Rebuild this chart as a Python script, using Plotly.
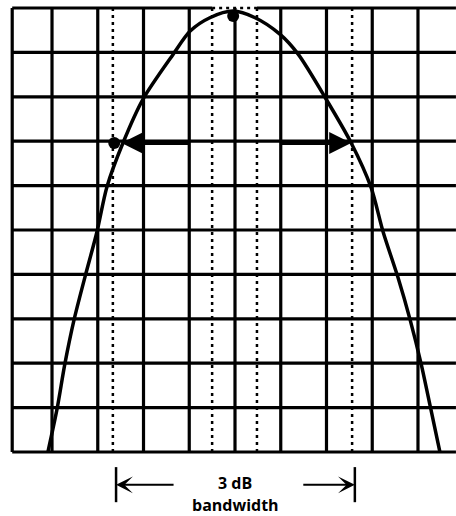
import plotly.graph_objects as go

# Grid geometry in screen divisions
x_lines = [1, 2, 3, 4, 5, 6, 7, 8, 9]
y_lines = [0, 1, 2, 3, 4, 5, 6, 7, 8, 9, 10]
x_left_edge = 0.13
x_right_edge = 9.83
x_dotted = [2.33, 4.50, 5.48, 7.56]

# Filter response trace (x: horizontal divisions, y: vertical divisions)
curve_x = [0.91, 1.11, 1.28, 1.48, 1.72, 1.98, 2.20, 2.55, 2.99, 3.65, 4.02, 4.45, 4.96,
           5.44, 5.98, 6.38, 6.99, 7.54, 7.97, 8.24, 8.56, 8.83, 9.07, 9.28, 9.48]
curve_y = [0.0, 0.97, 1.98, 2.97, 3.94, 4.95, 5.97, 6.96, 7.95, 8.96, 9.48, 9.78, 9.93,
           9.78, 9.41, 8.96, 7.95, 6.96, 5.97, 4.95, 3.94, 2.97, 1.98, 0.97, 0.0]

# Marked points: peak and lower -3 dB point
peak = (4.96, 9.82)
half_power_left = (2.36, 6.96)
# -3 dB arrows (tail -> head)
arrow_left = ((4.02, 6.96), (2.52, 6.96))
arrow_right = ((5.98, 6.96), (7.54, 6.96))

# Bandwidth bracket below the screen
bw_left, bw_right = 2.40, 7.62
bw_bar_y = (-0.34, -1.13)
bw_arrow_y = -0.74
bw_tail_left, bw_tail_right = 3.69, 6.46
label_top = "3 dB"
label_bottom = "bandwidth"

fig = go.Figure()

# solid grid lines
gx, gy = [], []
for x in x_lines:
    gx += [x, x, None]
    gy += [y_lines[0], y_lines[-1], None]
# left border
gx += [x_left_edge, x_left_edge, None]
gy += [y_lines[0], y_lines[-1], None]
for y in y_lines[:-1]:
    gx += [x_left_edge, x_right_edge, None]
    gy += [y, y, None]
# top border, broken around the peak
gx += [x_left_edge, x_dotted[1], None, x_dotted[2], x_right_edge, None]
gy += [y_lines[-1], y_lines[-1], None, y_lines[-1], y_lines[-1], None]
fig.add_trace(go.Scatter(x=gx, y=gy, mode="lines",
                         line=dict(color="black", width=3.2), hoverinfo="skip"))

# dotted verticals
dx, dy = [], []
for x in x_dotted:
    dx += [x, x, None]
    dy += [y_lines[0], y_lines[-1], None]
dx += [x_dotted[1], x_dotted[2], None]
dy += [y_lines[-1], y_lines[-1], None]
fig.add_trace(go.Scatter(x=dx, y=dy, mode="lines",
                         line=dict(color="black", width=2.5, dash="3px,4px"),
                         hoverinfo="skip"))

# response curve
fig.add_trace(go.Scatter(x=curve_x, y=curve_y, mode="lines",
                         line=dict(color="black", width=3.5, shape="spline", smoothing=0.8),
                         hoverinfo="skip"))

# marked points
fig.add_trace(go.Scatter(x=[peak[0], half_power_left[0]], y=[peak[1], half_power_left[1]],
                         mode="markers", marker=dict(color="black", size=12),
                         hoverinfo="skip"))

# -3 dB arrows
for tail, head in (arrow_left, arrow_right):
    fig.add_annotation(x=head[0], y=head[1], ax=tail[0], ay=tail[1],
                       xref="x", yref="y", axref="x", ayref="y",
                       text="", showarrow=True, arrowhead=2, arrowsize=1.1,
                       arrowwidth=4, arrowcolor="black")

# bandwidth bracket
fig.add_trace(go.Scatter(x=[bw_left, bw_left, None, bw_right, bw_right],
                         y=[bw_bar_y[0], bw_bar_y[1], None, bw_bar_y[0], bw_bar_y[1]],
                         mode="lines", line=dict(color="black", width=2.5),
                         hoverinfo="skip"))
fig.add_annotation(x=bw_left, y=bw_arrow_y, ax=bw_tail_left, ay=bw_arrow_y,
                   xref="x", yref="y", axref="x", ayref="y",
                   text="", showarrow=True, arrowhead=3, arrowsize=1.4,
                   arrowwidth=2, arrowcolor="black")
fig.add_annotation(x=bw_right, y=bw_arrow_y, ax=bw_tail_right, ay=bw_arrow_y,
                   xref="x", yref="y", axref="x", ayref="y",
                   text="", showarrow=True, arrowhead=3, arrowsize=1.4,
                   arrowwidth=2, arrowcolor="black")

fig.add_annotation(x=5.0, y=-0.70, xref="x", yref="y", text="<b>" + label_top + "</b>",
                   showarrow=False, font=dict(family="Open Sans", size=16, color="black"))
fig.add_annotation(x=5.0, y=-1.19, xref="x", yref="y", text="<b>" + label_bottom + "</b>",
                   showarrow=False, font=dict(family="Open Sans", size=16, color="black"))

fig.update_layout(
    width=456, height=516,
    margin=dict(l=0, r=0, t=0, b=0),
    paper_bgcolor="white", plot_bgcolor="white",
    showlegend=False,
    xaxis=dict(range=[-0.137, 9.831], visible=False, fixedrange=True),
    yaxis=dict(range=[-1.441, 10.18], visible=False, fixedrange=True),
)

fig.write_html("out.html")
